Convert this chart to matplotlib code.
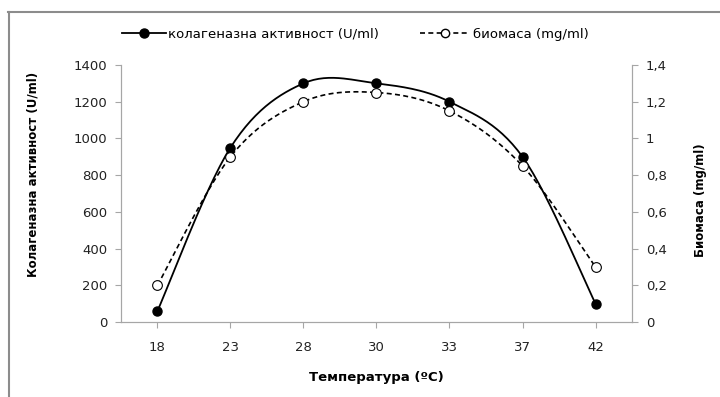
import numpy as np
import matplotlib
matplotlib.use("Agg")
from matplotlib import pyplot as plt
from matplotlib.lines import Line2D

plt.rcParams['font.family'] = ['DejaVu Sans']

temps = ["18", "23", "28", "30", "33", "37", "42"]
collagenase = [60, 950, 1300, 1300, 1200, 900, 100]
biomass = [0.2, 0.9, 1.2, 1.25, 1.15, 0.85, 0.3]

left_ticks = [0, 200, 400, 600, 800, 1000, 1200, 1400]
right_ticks = [0, 0.2, 0.4, 0.6, 0.8, 1.0, 1.2, 1.4]
right_labels = ["0", "0,2", "0,4", "0,6", "0,8", "1", "1,2", "1,4"]


def smooth(xs, ys, n=30):
    # excel-like smoothed line (bezier through the points)
    x = np.asarray(xs, float)
    y = np.asarray(ys, float)
    px = np.concatenate(([x[0]], x, [x[-1]]))
    py = np.concatenate(([y[0]], y, [y[-1]]))
    out_x, out_y = [], []
    t = np.linspace(0, 1, n)
    for i in range(1, len(px) - 2):
        p0 = np.array([px[i], py[i]])
        p3 = np.array([px[i + 1], py[i + 1]])
        p1 = p0 + (np.array([px[i + 1], py[i + 1]]) - np.array([px[i - 1], py[i - 1]])) / 6
        p2 = p3 - (np.array([px[i + 2], py[i + 2]]) - np.array([px[i], py[i]])) / 6
        b = ((1 - t) ** 3)[:, None] * p0 + (3 * (1 - t) ** 2 * t)[:, None] * p1 \
            + (3 * (1 - t) * t ** 2)[:, None] * p2 + (t ** 3)[:, None] * p3
        out_x.extend(b[:, 0])
        out_y.extend(b[:, 1])
    return out_x, out_y


fig = plt.figure(figsize=(7.2, 3.97), dpi=100)
ax = fig.add_axes([0.168, 0.189, 0.7098, 0.6473])
ax2 = ax.twinx()

xpos = np.arange(len(temps))
sx, sy = smooth(xpos, collagenase)
ax.plot(sx, sy, color='black', lw=1.3, zorder=3)
ax.plot(xpos, collagenase, 'o', color='black', ms=6.5, zorder=4)

bx, by = smooth(xpos, biomass)
ax2.plot(bx, by, color='black', lw=1.2, ls=(0, (3, 2)), zorder=3)
ax2.plot(xpos, biomass, 'o', mfc='white', mec='black', mew=0.8, ms=7, zorder=4)

ax.set_xlim(-0.5, len(temps) - 0.5)
ax.set_ylim(0, 1400)
ax2.set_ylim(0, 1.4)
ax.set_xticks(xpos)
ax.set_xticklabels(temps)
ax.set_yticks(left_ticks)
ax2.set_yticks(right_ticks)
ax2.set_yticklabels(right_labels)

gray = '#a6a6a6'
for a in (ax, ax2):
    for s in a.spines.values():
        s.set_color(gray)
    a.spines['top'].set_visible(False)
    a.tick_params(color=gray, length=4, labelsize=9.5, labelcolor='#222222')
ax.tick_params(axis='x', pad=10)
ax.tick_params(axis='y', pad=6)
ax2.tick_params(axis='y', pad=6)

ax.set_xlabel("Температура (ºC)", fontsize=9.5, fontweight='bold')
ax.xaxis.set_label_coords(0.5, -0.19)
ax.set_ylabel("Колагеназна активност (U/ml)", fontsize=8.5, fontweight='bold')
ax.yaxis.set_label_coords(-0.16, 0.574)
ax2.set_ylabel("Биомаса (mg/ml)", fontsize=8.5, fontweight='bold')
ax2.yaxis.set_label_coords(1.121, 0.475)

h1 = Line2D([], [], color='black', lw=1.3, marker='o', ms=6.5)
h2 = Line2D([], [], color='black', lw=1.2, ls=(0, (3, 2)), marker='o', mfc='white', mec='black', ms=6)
leg1 = fig.legend([h1], ["колагеназна активност (U/ml)"], loc='center left',
                  bbox_to_anchor=(122 / 720, 0.914), frameon=False, borderpad=0,
                  borderaxespad=0, fontsize=9.5, handlelength=3.3, handletextpad=0.2)
leg2 = fig.legend([h2], ["биомаса (mg/ml)"], loc='center left',
                  bbox_to_anchor=(420 / 720, 0.914), frameon=False, borderpad=0,
                  borderaxespad=0, fontsize=9.5, handlelength=3.8, handletextpad=0.2)

# chart border (top and left edges visible in the crop)
fig.add_artist(Line2D([0.011, 1.0], [0.969, 0.969], color='#8c8c8c', lw=1.5,
                      transform=fig.transFigure))
fig.add_artist(Line2D([0.0125, 0.0125], [0.0, 0.969], color='#8c8c8c', lw=1.5,
                      transform=fig.transFigure))

fig.savefig("out.png", dpi=100)
